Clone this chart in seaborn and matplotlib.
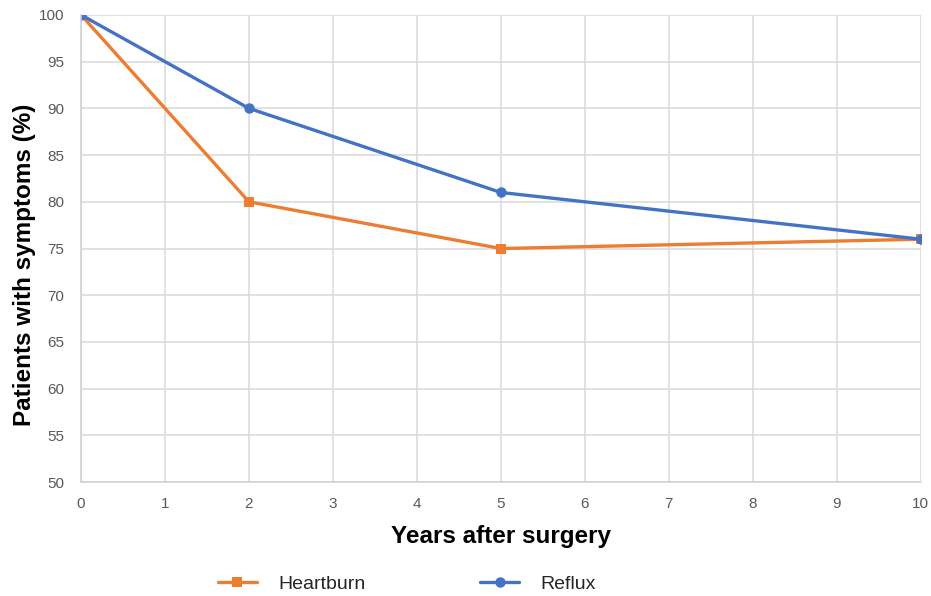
import matplotlib
matplotlib.use("Agg")
import matplotlib.pyplot as plt
import seaborn as sns
import pandas as pd

years = [0, 2, 5, 10]
heartburn = [100, 80, 75, 76]
reflux = [100, 90, 81, 76]
series_names = ["Heartburn", "Reflux"]
x_ticks = list(range(0, 11))
y_ticks = list(range(50, 101, 5))

df = pd.DataFrame({
    "Years": years * 2,
    "Value": heartburn + reflux,
    "Series": [series_names[0]] * len(years) + [series_names[1]] * len(years),
})

sns.set_theme(style="white")
plt.rcParams["font.family"] = ["Liberation Sans", "DejaVu Sans"]

fig = plt.figure(figsize=(9.31, 5.96), dpi=100)
ax = fig.add_axes([0.087, 0.191, 0.902, 0.784])

palette = {"Heartburn": "#ED7D31", "Reflux": "#4472C4"}
sns.lineplot(data=df, x="Years", y="Value", hue="Series", style="Series",
             markers={"Heartburn": "s", "Reflux": "o"}, dashes=False,
             palette=palette, linewidth=2.4, markersize=7.5,
             markeredgewidth=0, ax=ax, legend=True)

ax.set_xlim(0, 10)
ax.set_ylim(50, 100)
ax.set_xticks(x_ticks)
ax.set_yticks(y_ticks)
ax.grid(True, color="#D9D9D9", linewidth=1.1)
ax.set_axisbelow(True)
for s in ["top", "right"]:
    ax.spines[s].set_visible(False)
for s in ["left", "bottom"]:
    ax.spines[s].set_color("#D0D0D0")
    ax.spines[s].set_linewidth(1.1)
ax.tick_params(axis="both", colors="#595959", labelsize=11, length=0)
ax.tick_params(axis="x", pad=11)
ax.tick_params(axis="y", pad=12)

ax.set_xlabel("Years after surgery", fontsize=17.5, fontweight="bold", color="black", labelpad=10)
ax.set_ylabel("Patients with symptoms (%)", fontsize=17.5, fontweight="bold", color="black")
ax.yaxis.set_label_coords(-0.053, 0.465)

handles, labels = ax.get_legend_handles_labels()
ax.legend(handles, labels, loc="center", bbox_to_anchor=(0.388, -0.218),
          ncol=2, frameon=False, fontsize=14, handlelength=2.0,
          columnspacing=5.9, handletextpad=1.1)

fig.savefig("out.png", dpi=100)
